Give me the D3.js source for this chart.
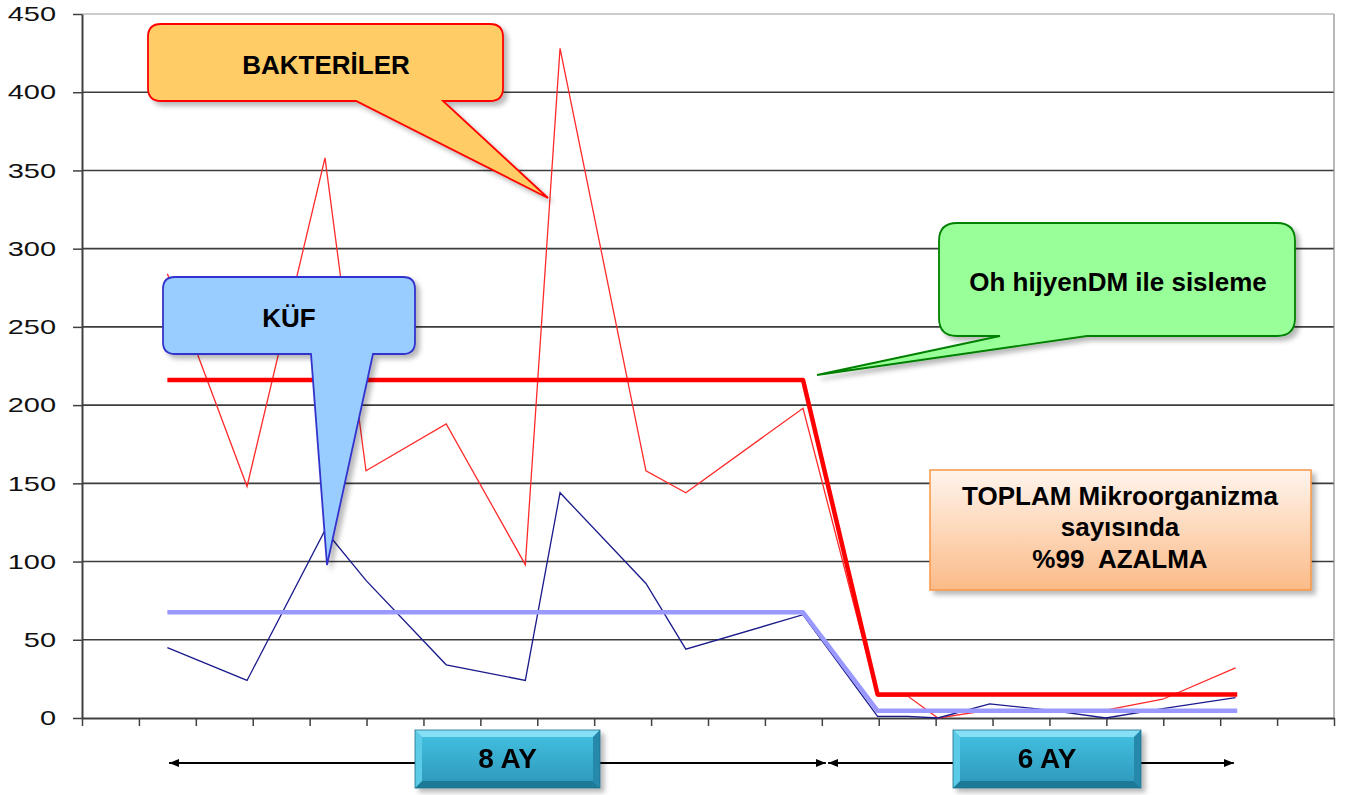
<!DOCTYPE html>
<html>
<head>
<meta charset="utf-8">
<script src="https://cdn.jsdelivr.net/npm/d3@7"></script>
<style>
  body { margin: 0; background: #fff; }
  svg { display: block; font-family: "Liberation Sans", Arial, sans-serif; }
</style>
</head>
<body>
<div class="chart"></div>
<script>
// x positions in axis-tick units (22 tick intervals)
const xPos = [1.5, 2.9, 4.27, 4.99, 6.4, 7.79, 8.4, 9.91, 10.61, 12.67, 13.98, 14.51, 15.04, 15.95, 16.99, 17.99, 18.99, 20.27];
const bakteri = [284, 148, 358, 158, 188, 98, 428, 158, 144, 198, 14, 14, 0, 5, 5, 5, 12, 32];
const kuf = [45, 24, 120, 88, 34, 24, 144, 86, 44, 66, 1, 1, 0, 9, 5, 0, 6, 13];

// average (period) lines
const avgX = [1.5, 12.67, 13.98, 20.3];
const avgBakteri = [216, 216, 15, 15];
const avgKuf = [67.6, 67.6, 4.6, 4.6];

const yTicks = [0, 50, 100, 150, 200, 250, 300, 350, 400, 450];
const periods = [
  {label: "8 AY", from: 1.53, to: 13.07},
  {label: "6 AY", from: 13.11, to: 20.24}
];

const width = 1357, height = 795;
const plot = {left: 82, right: 1334, top: 14, bottom: 718};

const svg = d3.select(".chart").append("svg")
  .attr("width", width)
  .attr("height", height);

const x = d3.scaleLinear().domain([0, 22]).range([plot.left, plot.right]);
const y = d3.scaleLinear().domain([0, 450]).range([plot.bottom, plot.top]);

const defs = svg.append("defs");
defs.append("filter").attr("id", "shadow")
  .attr("x", "-10%").attr("y", "-10%").attr("width", "130%").attr("height", "140%")
  .append("feDropShadow")
  .attr("dx", 4).attr("dy", 4).attr("stdDeviation", 2.5)
  .attr("flood-color", "#000").attr("flood-opacity", 0.28);

const orangeGrad = defs.append("linearGradient").attr("id", "orangeGrad")
  .attr("x1", 0).attr("y1", 0).attr("x2", 0).attr("y2", 1);
orangeGrad.append("stop").attr("offset", "0%").attr("stop-color", "#fff4ec");
orangeGrad.append("stop").attr("offset", "100%").attr("stop-color", "#fbbb88");

const tealGrad = defs.append("linearGradient").attr("id", "tealGrad")
  .attr("x1", 0).attr("y1", 0).attr("x2", 0).attr("y2", 1);
tealGrad.append("stop").attr("offset", "0%").attr("stop-color", "#45c2e2");
tealGrad.append("stop").attr("offset", "100%").attr("stop-color", "#2c97ba");

defs.append("marker")
  .attr("id", "arrow")
  .attr("viewBox", "0 0 10 8")
  .attr("refX", 10).attr("refY", 4)
  .attr("markerWidth", 10).attr("markerHeight", 8)
  .attr("markerUnits", "userSpaceOnUse")
  .attr("orient", "auto-start-reverse")
  .append("path")
  .attr("d", "M0,0L10,4L0,8Z")
  .attr("fill", "#000");

// gridlines
svg.append("g")
  .selectAll("line")
  .data(yTicks.filter(d => d > 0))
  .join("line")
  .attr("x1", plot.left).attr("x2", plot.right)
  .attr("y1", d => y(d)).attr("y2", d => y(d))
  .attr("stroke", d => d === 450 ? "#9a9a9a" : "#3c3c3c")
  .attr("stroke-width", d => d === 450 ? 1 : 1.6);

svg.append("line")
  .attr("x1", plot.right).attr("x2", plot.right)
  .attr("y1", plot.top).attr("y2", plot.bottom)
  .attr("stroke", "#8a8a8a").attr("stroke-width", 1.2);

// axes
const yAxis = svg.append("g")
  .attr("transform", `translate(${plot.left},0)`)
  .call(d3.axisLeft(y).tickValues(yTicks).tickSize(9).tickSizeOuter(0));
yAxis.select(".domain").attr("stroke", "#404040").attr("stroke-width", 2);
yAxis.selectAll(".tick line").attr("stroke", "#404040").attr("stroke-width", 1.5);
yAxis.selectAll(".tick text")
  .attr("x", null)
  .attr("transform", "translate(-26,0) scale(1.38,1)")
  .attr("font-size", 21)
  .attr("font-family", "Liberation Sans, Arial, sans-serif")
  .attr("fill", "#111");

const xAxis = svg.append("g")
  .attr("transform", `translate(0,${plot.bottom})`)
  .call(d3.axisBottom(x).tickValues(d3.range(0, 23)).tickSize(8).tickSizeOuter(0).tickFormat(""));
xAxis.select(".domain").attr("stroke", "#404040").attr("stroke-width", 2);
xAxis.selectAll(".tick line").attr("stroke", "#404040").attr("stroke-width", 1.5);

// series
const line = d3.line().x((d, i) => x(xPos[i])).y(d => y(d));
const avgLine = d3.line().x((d, i) => x(avgX[i])).y(d => y(d));

svg.append("path").attr("d", line(bakteri))
  .attr("fill", "none").attr("stroke", "#ff2a2a").attr("stroke-width", 1.3);
svg.append("path").attr("d", line(kuf))
  .attr("fill", "none").attr("stroke", "#1a1a8c").attr("stroke-width", 1.3);
svg.append("path").attr("d", avgLine(avgKuf))
  .attr("fill", "none").attr("stroke", "#9999ff").attr("stroke-width", 4.5)
  .attr("stroke-linejoin", "round");
svg.append("path").attr("d", avgLine(avgBakteri))
  .attr("fill", "none").attr("stroke", "#ff0000").attr("stroke-width", 4.5)
  .attr("stroke-linejoin", "round");

// callouts
function calloutPath(x0, y0, x1, y1, r, bx0, bx1, tx, ty) {
  return `M${x0 + r},${y0}H${x1 - r}Q${x1},${y0} ${x1},${y0 + r}V${y1 - r}Q${x1},${y1} ${x1 - r},${y1}` +
    `H${bx1}L${tx},${ty}L${bx0},${y1}H${x0 + r}Q${x0},${y1} ${x0},${y1 - r}V${y0 + r}Q${x0},${y0} ${x0 + r},${y0}Z`;
}

const callouts = [
  {text: "BAKTERİLER", box: [148, 24, 503, 101], r: 13, base: [356, 443], tip: [548, 198],
   fill: "#ffcc66", stroke: "#ff0000", tx: 326, ty: 74},
  {text: "KÜF", box: [163, 277, 415, 354], r: 12, base: [311, 373], tip: [327, 565],
   fill: "#99ccff", stroke: "#3333cc", tx: 289, ty: 327},
  {text: "Oh hijyenDM ile sisleme", box: [939, 223, 1295, 336], r: 18, base: [1000, 1087], tip: [817, 375],
   fill: "#99ff99", stroke: "#008000", tx: 1118, ty: 291}
];

const cg = svg.append("g").selectAll("g").data(callouts).join("g");
cg.append("path")
  .attr("d", d => calloutPath(...d.box, d.r, ...d.base, ...d.tip))
  .attr("fill", d => d.fill)
  .attr("stroke", d => d.stroke)
  .attr("stroke-width", 1.8)
  .attr("filter", "url(#shadow)");
cg.append("text")
  .attr("x", d => d.tx).attr("y", d => d.ty)
  .attr("text-anchor", "middle")
  .attr("font-size", 26).attr("font-weight", "bold")
  .attr("fill", "#000")
  .text(d => d.text);

// total reduction box
const note = svg.append("g");
note.append("rect")
  .attr("x", 930).attr("y", 470).attr("width", 381).attr("height", 120)
  .attr("fill", "url(#orangeGrad)")
  .attr("stroke", "#f79646").attr("stroke-width", 1.5)
  .attr("filter", "url(#shadow)");
note.selectAll("text")
  .data(["TOPLAM Mikroorganizma", "sayısında", "%99  AZALMA"])
  .join("text")
  .attr("x", 1120)
  .attr("y", (d, i) => [505, 536, 568][i])
  .attr("text-anchor", "middle")
  .attr("font-size", 26).attr("font-weight", "bold")
  .attr("fill", "#000")
  .style("white-space", "pre")
  .text(d => d);

// period arrows and labels
const arrowY = 763;
svg.append("g").selectAll("line")
  .data(periods)
  .join("line")
  .attr("x1", d => x(d.from)).attr("x2", d => x(d.to))
  .attr("y1", arrowY).attr("y2", arrowY)
  .attr("stroke", "#000").attr("stroke-width", 2)
  .attr("marker-start", "url(#arrow)")
  .attr("marker-end", "url(#arrow)");

const boxW = [185, 188], boxCx = [507.5, 1047], boxH = 58, boxTop = 730, bev = 7;
const pg = svg.append("g").selectAll("g").data(periods).join("g")
  .attr("filter", "url(#shadow)");
pg.each(function (d, i) {
  const g = d3.select(this);
  const x0 = boxCx[i] - boxW[i] / 2, x1 = boxCx[i] + boxW[i] / 2;
  const y0 = boxTop, y1 = boxTop + boxH;
  g.append("rect").attr("x", x0).attr("y", y0).attr("width", x1 - x0).attr("height", y1 - y0)
    .attr("fill", "url(#tealGrad)");
  const sides = [
    [[x0, y0], [x1, y0], [x1 - bev, y0 + bev], [x0 + bev, y0 + bev], "#86e0f5"],
    [[x0, y1], [x1, y1], [x1 - bev, y1 - bev], [x0 + bev, y1 - bev], "#1f7a98"],
    [[x0, y0], [x0 + bev, y0 + bev], [x0 + bev, y1 - bev], [x0, y1], "#5ccbe8"],
    [[x1, y0], [x1 - bev, y0 + bev], [x1 - bev, y1 - bev], [x1, y1], "#2589ab"]
  ];
  g.selectAll("polygon").data(sides).join("polygon")
    .attr("points", s => s.slice(0, 4).map(p => p.join(",")).join(" "))
    .attr("fill", s => s[4]);
  g.append("rect").attr("x", x0).attr("y", y0).attr("width", x1 - x0).attr("height", y1 - y0)
    .attr("fill", "none").attr("stroke", "#1d6f8a").attr("stroke-width", 0.8);
  g.append("text")
    .attr("x", boxCx[i]).attr("y", y0 + 38)
    .attr("text-anchor", "middle")
    .attr("font-size", 28).attr("font-weight", "bold")
    .attr("fill", "#000")
    .text(d.label);
});
</script>
</body>
</html>
